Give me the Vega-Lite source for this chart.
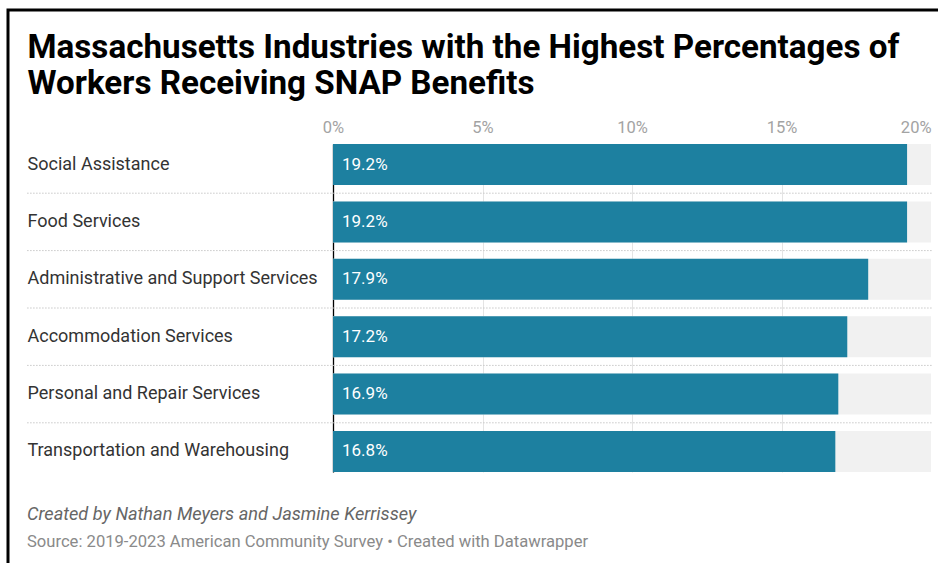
{
  "$schema": "https://vega.github.io/schema/vega-lite/v6.json",
  "autosize": {"type": "none"},
  "padding": {"left": 8, "top": 10, "right": 0, "bottom": 0},
  "width": 930,
  "height": 553,
  "background": "#ffffff",
  "config": {
    "font": "Roboto",
    "view": {"stroke": "#000000", "strokeWidth": 3, "strokeDash": [930, 1483, 553]}
  },
  "title": {
    "text": "Created by Nathan Meyers and Jasmine Kerrissey",
    "subtitle": "Source: 2019-2023 American Community Survey • Created with Datawrapper",
    "orient": "bottom",
    "anchor": "start",
    "frame": "group",
    "offset": 0,
    "dx": 19,
    "dy": -57.5,
    "font": "Roboto",
    "fontSize": 18.2,
    "fontStyle": "italic",
    "fontWeight": "normal",
    "color": "#666666",
    "subtitleFont": "Roboto",
    "subtitleFontSize": 16.6,
    "subtitleColor": "#8a8a8a",
    "subtitlePadding": 10
  },
  "data": {
    "values": [
      {"name": "Social Assistance", "value": 0.192},
      {"name": "Food Services", "value": 0.192},
      {"name": "Administrative and Support Services", "value": 0.179},
      {"name": "Accommodation Services", "value": 0.172},
      {"name": "Personal and Repair Services", "value": 0.169},
      {"name": "Transportation and Warehousing", "value": 0.168}
    ]
  },
  "layer": [
    {
      "mark": {"type": "bar", "color": "#f1f1f1"},
      "encoding": {
        "x": {"datum": 0, "type": "quantitative"},
        "x2": {"datum": 0.2},
        "y": {"field": "name", "type": "nominal", "sort": null}
      }
    },
    {
      "mark": {"type": "bar", "color": "#1d80a0"},
      "encoding": {
        "x": {
          "field": "value",
          "type": "quantitative",
          "scale": {"domain": [-0.108696, 0.202341], "nice": false, "zero": false},
          "axis": {
            "orient": "top",
            "values": [0, 0.05, 0.1, 0.15, 0.2],
            "format": ".0%",
            "domain": false,
            "ticks": false,
            "tickSize": 0,
            "grid": true,
            "gridColor": {"condition": {"test": "datum.value > 0.19", "value": "transparent"}, "value": "#e4e4e4"},
            "gridWidth": 1,
            "labelPadding": -122,
            "labelBaseline": "alphabetic",
            "labelAlign": {"condition": {"test": "datum.value > 0.19", "value": "right"}, "value": "center"},
            "labelFont": "Roboto",
            "labelFontSize": 16.5,
            "labelColor": "#a3a3a3",
            "labelFlush": false,
            "labelOverlap": false,
            "labelBound": false,
            "title": ["Massachusetts Industries with the Highest Percentages of", "Workers Receiving SNAP Benefits"],
            "titleX": 19,
            "titleY": 47,
            "titleAlign": "left",
            "titleAnchor": "start",
            "titleBaseline": "alphabetic",
            "titleAngle": 0,
            "titleFont": "Roboto",
            "titleFontSize": 33.2,
            "titleFontWeight": "bold",
            "titleColor": "#000000",
            "titleLineHeight": 36.5
          }
        },
        "x2": {"datum": 0},
        "y": {
          "field": "name",
          "type": "nominal",
          "sort": null,
          "scale": {"range": [134, 462], "paddingInner": 0.2857, "paddingOuter": 0},
          "axis": {
            "orient": "left",
            "offset": -325,
            "title": null,
            "domain": true,
            "domainColor": "#000000",
            "domainWidth": 1.3,
            "ticks": false,
            "tickSize": 0,
            "grid": false,
            "labelAlign": "left",
            "labelBaseline": "middle",
            "labelPadding": 306,
            "labelFont": "Roboto",
            "labelFontSize": 18,
            "labelColor": "#333333",
            "labelLimit": 400
          }
        }
      }
    },
    {
      "mark": {"type": "text", "align": "left", "baseline": "middle", "dx": 9, "color": "#ffffff", "fontSize": 17, "font": "Roboto"},
      "encoding": {
        "x": {"datum": 0, "type": "quantitative"},
        "y": {"field": "name", "type": "nominal", "sort": null},
        "text": {"field": "value", "type": "quantitative", "format": ".1%"}
      }
    },
    {
      "transform": [{"filter": "datum.name != 'Transportation and Warehousing'"}],
      "mark": {"type": "rule", "yOffset": 28.7, "strokeDash": [1.5, 1.5], "color": "#c8c8c8", "strokeWidth": 1},
      "encoding": {
        "x": {"datum": -0.1023, "type": "quantitative"},
        "x2": {"datum": 0.2003},
        "y": {"field": "name", "type": "nominal", "sort": null}
      }
    }
  ]
}
